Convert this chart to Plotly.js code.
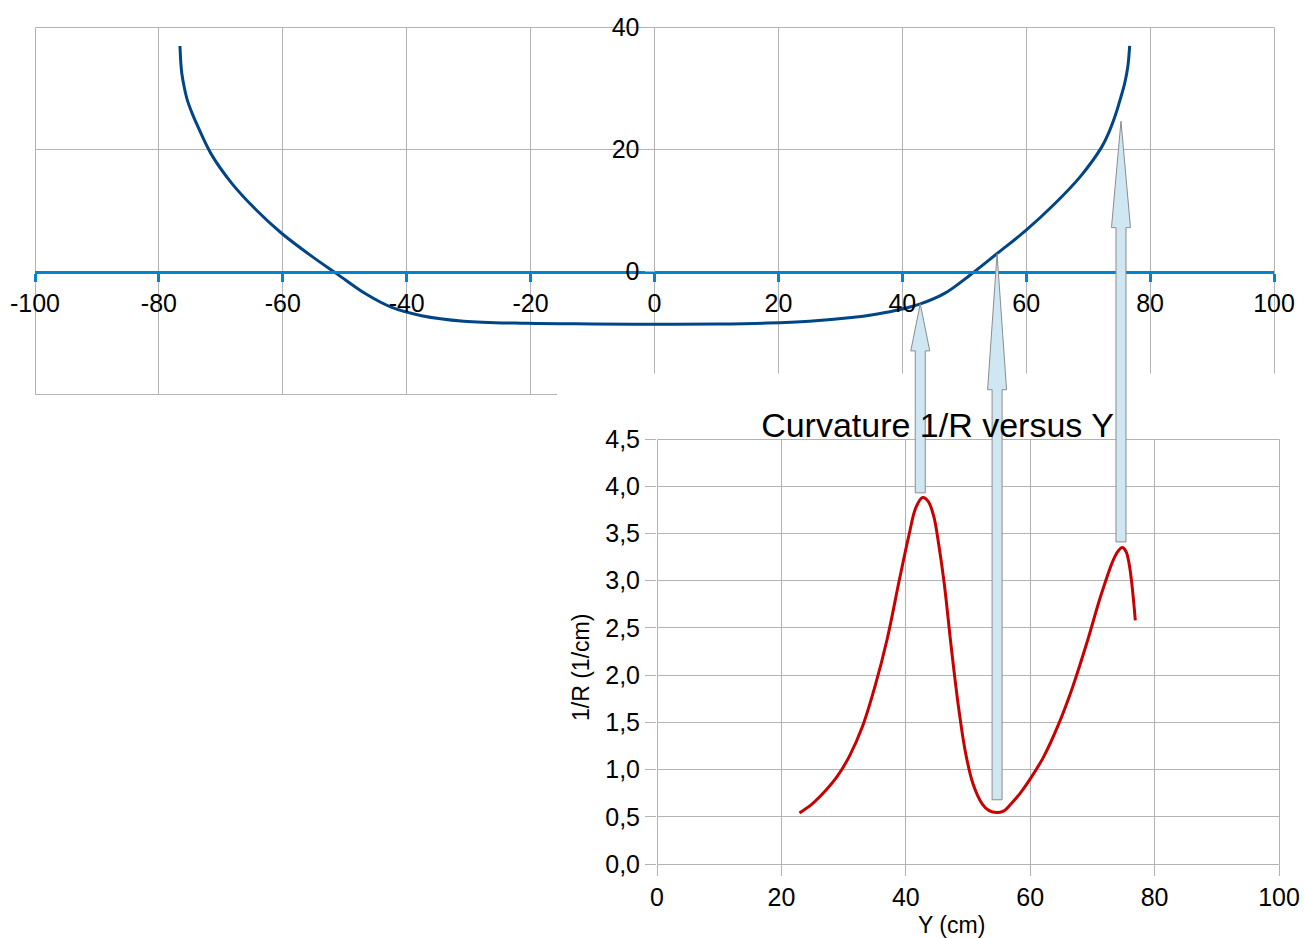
<!DOCTYPE html>
<html>
<head>
<meta charset="utf-8">
<script src="https://cdn.plot.ly/plotly-3.0.1.min.js"></script>
<style>
html,body{margin:0;padding:0;background:#fff;overflow:hidden}
#chart{width:1304px;height:938px}
</style>
</head>
<body>
<div id="chart"></div>
<script>
// ---- Top chart: profile Z versus Y (cm) ----
const profileY = [-76.6,-76.45,-76.3,-75.9,-75.4,-74.6,-73.7,-71.6,-68.2,-64.2,-60.1,-55.3,-51.2,-46.5,-42.4,-37.6,-30.8,-20.6,-10.0,0.0,10.0,18.2,25.0,31.8,35.5,38.7,42.8,46.9,51.0,55.1,59.9,64.6,68.7,72.2,73.4,74.5,75.3,75.9,76.4,76.7];
const profileZ = [36.9,34.0,32.4,30.1,28.0,25.8,23.7,19.3,14.4,10.0,6.2,2.5,-0.4,-3.7,-5.85,-7.2,-8.1,-8.45,-8.55,-8.6,-8.55,-8.4,-8.1,-7.5,-7.0,-6.4,-5.3,-3.5,-0.5,2.8,6.7,11.1,15.5,20.4,22.9,25.9,28.6,30.8,33.5,36.9];

// ---- Bottom chart: curvature 1/R versus Y ----
const curvY = [22.9,25.0,27.0,29.0,31.0,33.0,35.0,37.0,39.0,40.5,41.6,42.7,43.6,44.5,45.3,46.2,47.3,48.5,49.6,50.8,52.3,53.4,54.6,55.7,56.9,58.4,59.9,62.2,64.5,66.8,69.1,71.4,73.3,74.1,74.8,75.4,75.9,76.3,76.6,76.9];
const curvK = [0.54,0.64,0.77,0.93,1.15,1.45,1.87,2.38,3.02,3.48,3.77,3.88,3.84,3.68,3.38,2.96,2.30,1.65,1.18,0.85,0.635,0.565,0.544,0.56,0.635,0.75,0.89,1.14,1.47,1.87,2.34,2.85,3.21,3.31,3.35,3.31,3.18,2.99,2.80,2.58];

// ---- Tick labels ----
const topXTicks = [-100,-80,-60,-40,-20,0,20,40,60,80,100];
const topXLabels = ['-100','-80','-60','-40','-20','0','20','40','60','80','100'];
const topYTicks = [-20,0,20,40];
const topYLabels = ['','0','20','40'];
const botXTicks = [0,20,40,60,80,100];
const botXLabels = ['0','20','40','60','80','100'];
const botYTicks = [0,0.5,1,1.5,2,2.5,3,3.5,4,4.5];
const botYLabels = ['0,0','0,5','1,0','1,5','2,0','2,5','3,0','3,5','4,0','4,5'];

// ---- Arrows linking curvature extremes to the profile ----
const arrowAt = [42.9, 55.3, 75.3];          // Y (cm)
const arrowTip = [-5.25, 2.95, 24.6];        // profile Z at the tip
const arrowHeadBase = [-12.95, -19.3, 7.2];  // profile Z where the head starts
const arrowTail = [3.93, 0.68, 3.41];        // curvature at the tail

// ---- Geometry (pixels) ----
const W = 1304, H = 938;
const TOP = {x0:35, x1:1274, y0:27, y1:394, xr:[-100,100], yr:[-20,40]};
const BOT = {x0:657, x1:1279, y0:439, y1:864, xr:[0,100], yr:[0,4.5]};
const px2p = v => v / W;
const py2p = v => 1 - v / H;
const mapX = (g, v) => g.x0 + (v - g.xr[0]) / (g.xr[1] - g.xr[0]) * (g.x1 - g.x0);
const mapY = (g, v) => g.y1 - (v - g.yr[0]) / (g.yr[1] - g.yr[0]) * (g.y1 - g.y0);

const FONT = 'Liberation Sans, Arial, sans-serif';
const GRID = '#b3b3b3';

const shapes = [];
// plot-area frames (grey, like the grid)
[TOP, BOT].forEach(g => {
  shapes.push({type:'rect', xref:'paper', yref:'paper', layer:'below',
    x0:px2p(g.x0 + 0.5), x1:px2p(g.x1 + 0.5), y0:py2p(g.y1 + 0.5), y1:py2p(g.y0 + 0.5),
    fillcolor:'rgba(0,0,0,0)', line:{color:GRID, width:1}});
});
// background of the lower chart covering the lower-right corner of the upper chart
shapes.push({type:'rect', xref:'paper', yref:'paper', layer:'above',
  x0:px2p(557), x1:1, y0:py2p(398), y1:py2p(373.5),
  fillcolor:'#ffffff', line:{width:0}});

for (let i = 0; i < arrowAt.length; i++) {
  const cx = mapX(TOP, arrowAt[i]);
  const tip = mapY(TOP, arrowTip[i]);
  const hb = mapY(TOP, arrowHeadBase[i]);
  const tail = mapY(BOT, arrowTail[i]);
  const hw = 9.5, sw = 5;
  const pts = [[cx, tip],[cx+hw, hb],[cx+sw, hb],[cx+sw, tail],[cx-sw, tail],[cx-sw, hb],[cx-hw, hb]];
  const path = 'M' + pts.map(p => px2p(p[0]).toFixed(5) + ',' + py2p(p[1]).toFixed(5)).join(' L') + ' Z';
  shapes.push({type:'path', xref:'paper', yref:'paper', layer:'above', path:path,
    fillcolor:'#cfe6f3', line:{color:'#8c8c8c', width:1}});
}

const traces = [
  {x:profileY, y:profileZ, xaxis:'x', yaxis:'y', type:'scatter', mode:'lines',
   line:{color:'#004586', width:3, shape:'spline', smoothing:1}, hoverinfo:'skip'},
  {x:curvY, y:curvK, xaxis:'x2', yaxis:'y2', type:'scatter', mode:'lines',
   line:{color:'#c80000', width:3, shape:'spline', smoothing:1}, hoverinfo:'skip'}
];

const layout = {
  width:W, height:H,
  margin:{l:0, r:0, t:0, b:0, pad:0},
  paper_bgcolor:'#ffffff', plot_bgcolor:'rgba(0,0,0,0)',
  showlegend:false,
  font:{family:FONT, color:'#000000', size:25},
  title:{text:'Curvature 1/R versus Y', font:{family:FONT, size:34, color:'#000000'},
         xref:'paper', yref:'paper', x:px2p(937.5), xanchor:'center', y:py2p(425), yanchor:'middle'},
  xaxis:{domain:[px2p(TOP.x0), px2p(TOP.x1)], range:TOP.xr, anchor:'free',
         position:py2p(mapY(TOP, 0)),
         tickmode:'array', tickvals:topXTicks, ticktext:topXLabels,
         showgrid:true, gridcolor:GRID, gridwidth:1, zeroline:false,
         showline:true, linecolor:'#0084d1', linewidth:3,
         ticks:'outside', tickcolor:'#0084d1', tickwidth:3, ticklen:8,
         tickfont:{size:25, color:'#000000'}, fixedrange:true},
  yaxis:{domain:[py2p(TOP.y1), py2p(TOP.y0)], range:TOP.yr, anchor:'free',
         position:px2p(mapX(TOP, 0)),
         tickmode:'array', tickvals:topYTicks, ticktext:topYLabels,
         showgrid:true, gridcolor:GRID, gridwidth:1, zeroline:false, showline:false,
         ticks:'outside', tickcolor:GRID, tickwidth:1, ticklen:10,
         tickfont:{size:25, color:'#000000'}, fixedrange:true},
  xaxis2:{domain:[px2p(BOT.x0), px2p(BOT.x1)], range:BOT.xr, anchor:'y2',
         tickmode:'array', tickvals:botXTicks, ticktext:botXLabels,
         showgrid:true, gridcolor:GRID, gridwidth:1, zeroline:false, showline:false,
         ticks:'outside', tickcolor:GRID, tickwidth:1, ticklen:11,
         tickfont:{size:25, color:'#000000'}, fixedrange:true},
  yaxis2:{domain:[py2p(BOT.y1), py2p(BOT.y0)], range:BOT.yr, anchor:'x2',
         tickmode:'array', tickvals:botYTicks, ticktext:botYLabels,
         showgrid:true, gridcolor:GRID, gridwidth:1, zeroline:false, showline:false,
         ticks:'outside', tickcolor:GRID, tickwidth:1, ticklen:11,
         tickfont:{size:25, color:'#000000'}, fixedrange:true},
  annotations:[
    {text:'Y (cm)', xref:'paper', yref:'paper', x:px2p(951.5), y:py2p(925),
     xanchor:'center', yanchor:'middle', showarrow:false, font:{size:23, color:'#000000'}},
    {text:'1/R (1/cm)', xref:'paper', yref:'paper', x:px2p(581), y:py2p(668), textangle:-90,
     xanchor:'center', yanchor:'middle', showarrow:false, font:{size:23, color:'#000000'}}
  ],
  shapes:shapes
};

Plotly.newPlot('chart', traces, layout, {displayModeBar:false, staticPlot:true});
</script>
</body>
</html>
